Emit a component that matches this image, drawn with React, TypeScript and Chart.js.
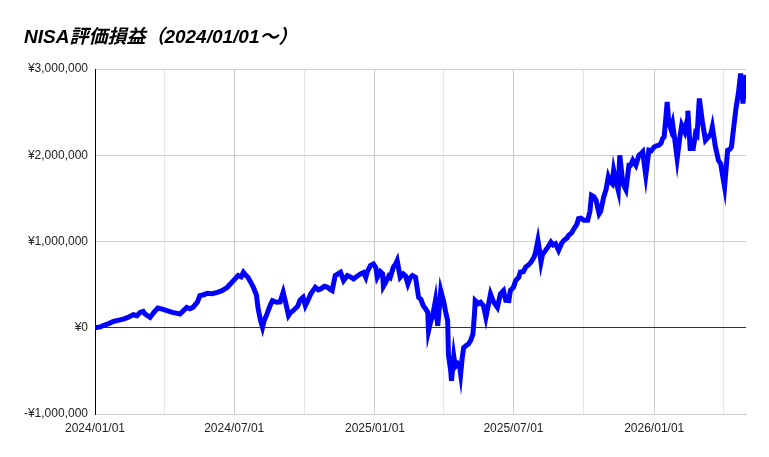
import { useEffect, useRef } from 'react';
import { Chart, registerables } from 'chart.js';

Chart.register(...registerables);

// days since 2024/01/01
const days: number[] = [
  0, 7, 10, 17, 24, 30, 37, 43, 50, 55, 59, 63, 65, 72, 77, 82, 88, 94, 101, 106,
  111, 117, 120, 124, 128, 134, 137, 141, 147, 153, 160, 166, 173, 181, 187, 191, 194, 198, 200, 204,
  207, 211, 213, 216, 219, 221, 225, 229, 232, 236, 238, 242, 246, 249, 253, 255, 259, 265, 268, 272,
  275, 279, 282, 285, 288, 292, 295, 300, 304, 308, 310, 314, 321, 325, 330, 334, 338, 343, 347, 351,
  354, 356, 360, 364, 367, 369, 373, 376, 377, 380, 384, 386, 390, 393, 395, 399, 403, 406, 409, 412,
  415, 419, 423, 426, 429, 432, 435, 436, 439, 441, 445, 448, 452, 456, 458, 461, 462, 465, 466, 469,
  471, 474, 477, 478, 480, 482, 486, 488, 491, 494, 496, 497, 501, 504, 508, 511, 515, 517, 521, 526,
  530, 534, 537, 541, 543, 547, 550, 554, 556, 560, 563, 567, 570, 574, 576, 579, 581, 583, 585, 589,
  593, 596, 599, 602, 606, 610, 613, 617, 619, 623, 626, 630, 632, 635, 639, 644, 647, 649, 652, 655,
  659, 661, 665, 668, 671, 673, 676, 678, 681, 684, 686, 690, 694, 698, 700, 703, 707, 711, 714, 716,
  720, 724, 727, 731, 734, 737, 740, 742, 744, 748, 750, 753, 755, 758, 761, 764, 767, 771, 774, 775,
  778, 782, 785, 787, 790, 794, 798, 802, 805, 807, 811, 815, 818, 820, 823, 827, 830, 832, 836, 838,
  841, 844, 847, 849, 851,
];

// 評価損益 (円)
const profit: number[] = [
  0, 10000, 23000, 45000, 73000, 85000, 100000, 120000, 151000, 140000, 178000, 190000, 163000, 120000, 180000, 229000, 215000, 198000, 178000, 170000,
  159000, 210000, 236000, 220000, 236000, 300000, 372000, 380000, 399000, 395000, 411000, 430000, 469000, 547000, 605000, 590000, 643000, 600000, 585000, 520000,
  469000, 380000, 236000, 100000, 5000, 80000, 163000, 260000, 314000, 300000, 295000, 300000, 411000, 300000, 143000, 170000, 198000, 250000, 320000, 353000,
  256000, 330000, 392000, 430000, 469000, 440000, 450000, 480000, 469000, 440000, 430000, 605000, 643000, 547000, 605000, 590000, 566000, 600000, 624000, 640000,
  585000, 650000, 721000, 740000, 700000, 585000, 650000, 624000, 480000, 527000, 600000, 585000, 702000, 740000, 779000, 585000, 624000, 600000, 508000, 580000,
  605000, 585000, 353000, 330000, 256000, 220000, 178000, -35000, 80000, 120000, 314000, 23000, 430000, 295000, 200000, 81000, -314000, -500000, -616000, -330000,
  -450000, -419000, -470000, -535000, -350000, -229000, -200000, -190000, -150000, -74000, 150000, 314000, 280000, 295000, 250000, 120000, 300000, 392000, 300000, 236000,
  392000, 430000, 317000, 314000, 433000, 469000, 549000, 585000, 646000, 650000, 704000, 730000, 762000, 820000, 878000, 1014000, 900000, 762000, 850000, 897000,
  950000, 993000, 960000, 974000, 897000, 980000, 1013000, 1040000, 1071000, 1100000, 1148000, 1200000, 1264000, 1270000, 1245000, 1245000, 1350000, 1535000, 1520000, 1478000,
  1322000, 1350000, 1516000, 1600000, 1748000, 1700000, 1671000, 1826000, 1700000, 1594000, 2000000, 1671000, 1600000, 1884000, 1884000, 1942000, 1884000, 2000000, 2020000, 2039000,
  1768000, 2058000, 2050000, 2097000, 2110000, 2116000, 2140000, 2194000, 2213000, 2619000, 2387000, 2300000, 2368000, 2174000, 1961000, 2174000, 2349000, 2271000, 2400000, 2516000,
  2078000, 2078000, 2252000, 2233000, 2658000, 2387000, 2174000, 2213000, 2250000, 2329000, 2097000, 1942000, 1900000, 1787000, 1632000, 2058000, 2070000, 2097000, 2406000, 2550000,
  2716000, 2948000, 2600000, 2800000, 2929000,
];

// quarter starts (days since 2024/01/01) and the half-year labels
const gridDays: number[] = [0, 91, 182, 274, 366, 456, 547, 639, 731, 821];
const labelDays: number[] = [0, 182, 366, 547, 731];
const xLabels: string[] = ['2024/01/01', '2024/07/01', '2025/01/01', '2025/07/01', '2026/01/01'];

const FONT = '"Liberation Sans", Arial, "Noto Sans CJK JP", sans-serif';

export default function App() {
  const canvasRef = useRef<HTMLCanvasElement | null>(null);

  useEffect(() => {
    document.body.style.margin = '0';
    if (!canvasRef.current) return;
    const chart = new Chart(canvasRef.current, {
      type: 'line',
      data: {
        datasets: [
          {
            data: days.map((d, i) => ({ x: d, y: profit[i] })),
            borderColor: '#0000ff',
            borderWidth: 5,
            pointRadius: 0,
            tension: 0,
            fill: false,
          },
        ],
      },
      options: {
        animation: false,
        responsive: false,
        layout: { padding: { left: 0, right: 23, top: 69, bottom: 13 } },
        plugins: {
          legend: { display: false },
          tooltip: { enabled: false },
        },
        scales: {
          x: {
            type: 'linear',
            min: 0,
            max: days[days.length - 1],
            afterBuildTicks: (scale) => {
              scale.ticks = gridDays.map((v) => ({ value: v }));
            },
            afterFit: (scale) => {
              scale.height = 30;
            },
            border: { display: true, color: '#cccccc' },
            grid: {
              drawTicks: false,
              color: (ctx) => (labelDays.includes(ctx.tick?.value as number) ? '#cccccc' : '#e6e6e6'),
            },
            ticks: {
              autoSkip: false,
              maxRotation: 0,
              padding: 7,
              color: '#222222',
              font: { family: FONT, size: 12 },
              callback: (value) => {
                const idx = labelDays.indexOf(value as number);
                return idx >= 0 ? xLabels[idx] : '';
              },
            },
          },
          y: {
            min: -1000000,
            max: 3000000,
            afterFit: (scale) => {
              scale.width = 95;
            },
            border: { display: true, color: '#000000' },
            grid: {
              drawTicks: false,
              color: (ctx) => (ctx.tick?.value === 0 ? '#333333' : '#cccccc'),
            },
            ticks: {
              stepSize: 1000000,
              padding: 7,
              color: '#222222',
              font: { family: FONT, size: 12 },
              callback: (value) => {
                const v = Number(value);
                const s = '¥' + Math.abs(v).toLocaleString('en-US');
                return v < 0 ? '-' + s : s;
              },
            },
          },
        },
      },
    });
    return () => chart.destroy();
  }, []);

  return (
    <div style={{ position: 'relative', width: 769, height: 457, background: '#fff' }}>
      <div
        style={{
          position: 'absolute',
          left: 24,
          top: 21,
          fontFamily: FONT,
          fontWeight: 'bold',
          fontStyle: 'italic',
          fontSize: 19,
          color: '#000',
          whiteSpace: 'nowrap',
        }}
      >
        NISA評価損益（2024/01/01～）
      </div>
      <canvas ref={canvasRef} width={769} height={457} />
    </div>
  );
}
